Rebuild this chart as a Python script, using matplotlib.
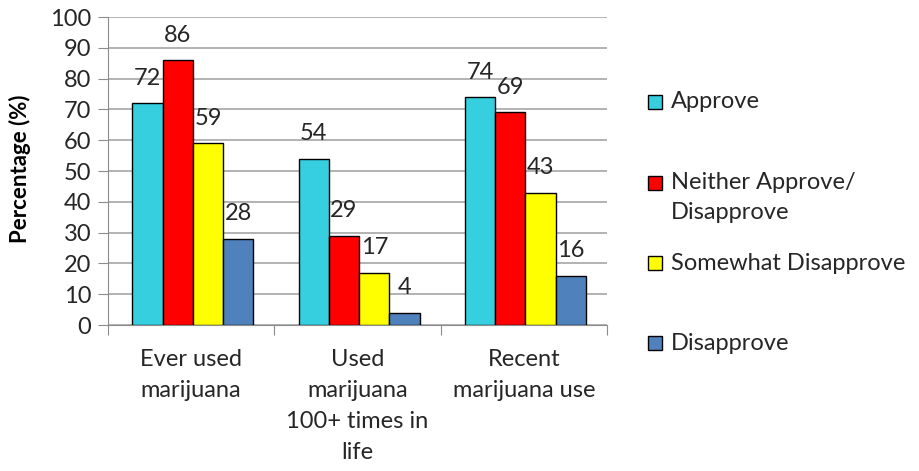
import matplotlib
matplotlib.use("Agg")
import matplotlib.pyplot as plt
import numpy as np
from matplotlib.patches import Rectangle

plt.rcParams["font.family"] = ["Lato", "DejaVu Sans"]

categories = ["Ever used\nmarijuana", "Used\nmarijuana\n100+ times in\nlife", "Recent\nmarijuana use"]
series = ["Approve", "Neither Approve/\nDisapprove", "Somewhat Disapprove", "Disapprove"]
approve = [72, 54, 74]
neither = [86, 29, 69]
somewhat = [59, 17, 43]
disapprove = [28, 4, 16]
values = [approve, neither, somewhat, disapprove]
colors = ["#36CFE0", "#FF0000", "#FFFF00", "#4F81BD"]

FS = 17
TXT = "#262626"

fig = plt.figure(figsize=(9.19, 4.71), dpi=100)
W, H = 919, 471
# plot area in pixels: x 108..607, y 17..325
ax = fig.add_axes([108 / W, 1 - 325 / H, (607 - 108) / W, (325 - 17) / H])

x = np.arange(len(categories))
bw = 0.182
for i, (vals, c) in enumerate(zip(values, colors)):
    pos = x + (i - 1.5) * bw + 0.01
    bars = ax.bar(pos, vals, width=bw, color=c, edgecolor="black", linewidth=1.0, zorder=3)
    for b, v in zip(bars, vals):
        ax.annotate(str(v), (b.get_x() + b.get_width() / 2, v), xytext=(0, 18),
                    textcoords="offset points", ha="center", va="center",
                    fontsize=FS, color=TXT, zorder=4)

ax.set_xlim(-0.5, 2.5)
ax.set_ylim(0, 100)
ax.set_yticks(range(0, 101, 10))
ax.yaxis.grid(True, color="#a6a6a6", linewidth=1.2, zorder=0)
ax.set_axisbelow(True)
for s in ["top", "right"]:
    ax.spines[s].set_visible(False)
ax.spines["left"].set_color("#8c8c8c")
ax.spines["bottom"].set_color("#8c8c8c")
ax.tick_params(axis="y", length=7, color="#8c8c8c", labelsize=FS, labelcolor=TXT, pad=5)

# category boundary ticks, labels centred in each group
ax.set_xticks([-0.5, 0.5, 1.5, 2.5])
ax.set_xticklabels([])
ax.tick_params(axis="x", length=7, color="#8c8c8c")
for xi, lab in zip(x, categories):
    ax.text(xi, -7.8, lab, ha="center", va="top", fontsize=FS, color=TXT, linespacing=1.58)

fig.text(20 / W, 1 - 169 / H, "Percentage (%)", rotation=90, ha="center", va="center",
         fontsize=16, fontweight="bold", color="black")

# legend
leg_y = [102, 183, 263, 343]
for lab, c, yy in zip(series, colors, leg_y):
    fig.add_artist(Rectangle((648 / W, 1 - (yy + 7) / H), 14 / W, 14 / H,
                             transform=fig.transFigure, facecolor=c,
                             edgecolor="black", linewidth=1.0))
    if "\n" in lab:
        fig.text(671 / W, 1 - (yy - 11) / H, lab, ha="left", va="top", fontsize=FS,
                 color=TXT, linespacing=1.55)
    else:
        fig.text(671 / W, 1 - yy / H, lab, ha="left", va="center", fontsize=FS, color=TXT)

fig.savefig("out.png", dpi=100)
